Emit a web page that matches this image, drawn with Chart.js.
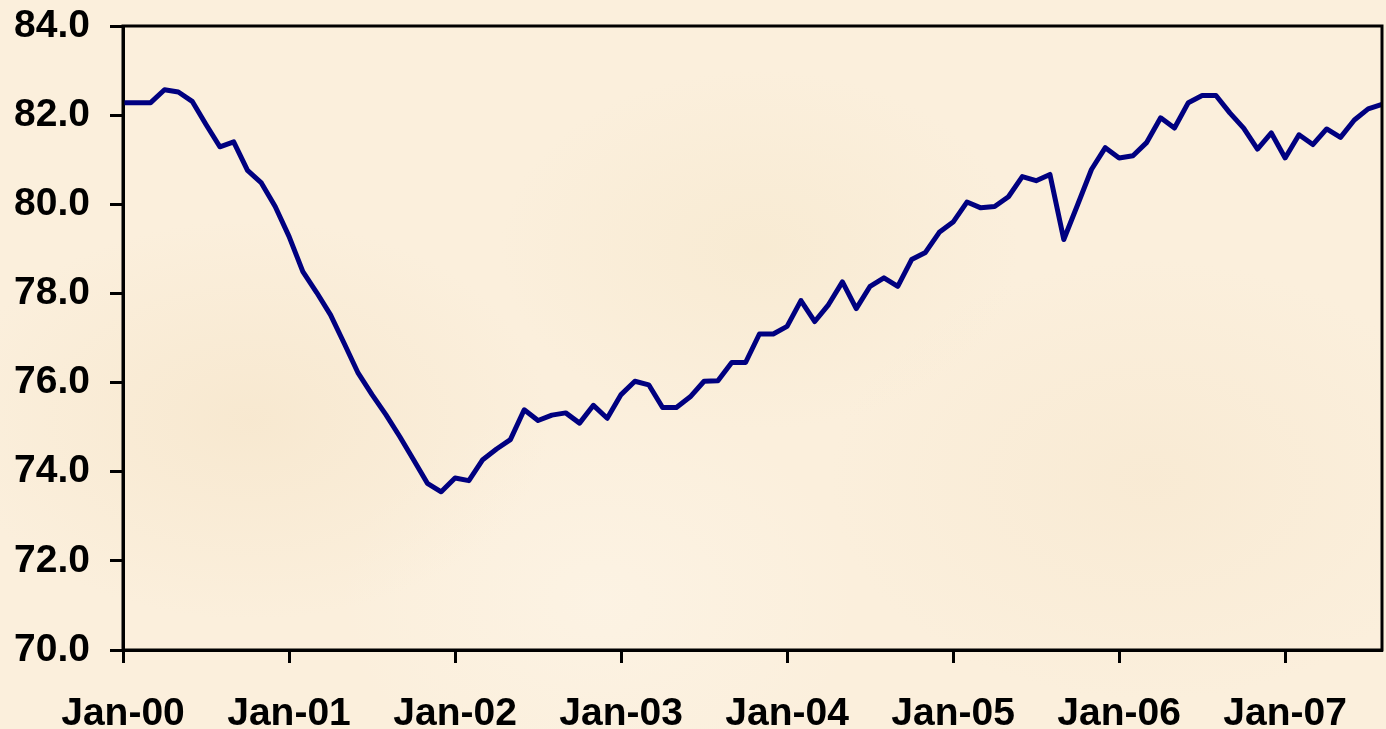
<!DOCTYPE html>
<html>
<head>
<meta charset="utf-8">
<script src="https://cdn.jsdelivr.net/npm/chart.js@4.4.1/dist/chart.umd.min.js"></script>
<style>
  html, body { margin: 0; padding: 0; }
  body {
    width: 1386px;
    height: 729px;
    overflow: hidden;
    background-color: #fbefdc;
    background-image:
      radial-gradient(ellipse 300px 200px at 250px 420px, rgba(245, 228, 200, 0.6), transparent),
      radial-gradient(ellipse 260px 180px at 760px 250px, rgba(246, 232, 205, 0.6), transparent),
      radial-gradient(ellipse 320px 220px at 1150px 480px, rgba(246, 230, 204, 0.5), transparent),
      radial-gradient(ellipse 260px 200px at 600px 600px, rgba(253, 245, 232, 0.6), transparent);
  }
</style>
</head>
<body>
<canvas id="chart" width="1386" height="729"></canvas>
<script>
const monthNames = ['Jan', 'Feb', 'Mar', 'Apr', 'May', 'Jun', 'Jul', 'Aug', 'Sep', 'Oct', 'Nov', 'Dec'];
const years = ['00', '01', '02', '03', '04', '05', '06', '07'];
const tickLabels = ['Jan-00', 'Jan-01', 'Jan-02', 'Jan-03', 'Jan-04', 'Jan-05', 'Jan-06', 'Jan-07'];

// monthly values, Jan-00 .. Aug-07
const values = [
  82.28, 82.28, 82.28, 82.57, 82.52, 82.31, 81.79, 81.29, 81.40, 80.76, 80.48, 79.95,
  79.28, 78.49, 78.02, 77.52, 76.87, 76.21, 75.73, 75.28, 74.79, 74.27, 73.74, 73.55,
  73.86, 73.80, 74.27, 74.51, 74.72, 75.39, 75.15, 75.27, 75.32, 75.09, 75.49, 75.20,
  75.73, 76.03, 75.95, 75.44, 75.44, 75.68, 76.03, 76.04, 76.45, 76.45, 77.09, 77.09,
  77.26, 77.84, 77.37, 77.75, 78.26, 77.66, 78.16, 78.35, 78.16, 78.76, 78.92, 79.37,
  79.60, 80.05, 79.92, 79.95, 80.17, 80.62, 80.53, 80.67, 79.21, 79.99, 80.78, 81.27,
  81.04, 81.09, 81.39, 81.94, 81.71, 82.28, 82.44, 82.44, 82.05, 81.71, 81.24, 81.60,
  81.04, 81.56, 81.34, 81.69, 81.50, 81.89, 82.14, 82.24
];

const categories = values.map((v, i) => monthNames[i % 12] + '-' + years[Math.floor(i / 12)]);

const labelFont = { family: '"Liberation Sans", Arial, sans-serif', size: 39, weight: 'bold' };

// black frame round the plot area
const plotBorder = {
  id: 'plotBorder',
  afterDatasetsDraw(chart) {
    const { ctx, chartArea: a } = chart;
    ctx.save();
    ctx.strokeStyle = '#000';
    ctx.lineWidth = 3;
    ctx.strokeRect(a.left, a.top, a.right - a.left, a.bottom - a.top);
    ctx.restore();
  }
};

new Chart(document.getElementById('chart').getContext('2d'), {
  type: 'line',
  data: {
    labels: categories,
    datasets: [{
      data: values,
      borderColor: '#000080',
      borderWidth: 5,
      pointRadius: 0,
      tension: 0,
      fill: false,
      borderJoinStyle: 'round'
    }]
  },
  options: {
    responsive: false,
    animation: false,
    layout: { padding: { top: 26, right: 4, left: 0, bottom: 0 } },
    plugins: { legend: { display: false }, tooltip: { enabled: false } },
    scales: {
      x: {
        offset: false,
        afterFit: scale => {
          scale.height = 79;
          scale.paddingLeft = 0;
          scale.paddingRight = 0;
        },
        border: { display: true, color: '#000', width: 3 },
        grid: {
          drawOnChartArea: false,
          drawTicks: true,
          tickLength: 13,
          tickWidth: 3,
          tickColor: c => tickLabels.includes(categories[c.index]) ? '#000' : 'rgba(0,0,0,0)'
        },
        ticks: {
          autoSkip: false,
          maxRotation: 0,
          minRotation: 0,
          padding: 28,
          color: '#000',
          font: labelFont,
          callback: (val, i) => tickLabels.includes(categories[i]) ? categories[i] : ''
        }
      },
      y: {
        min: 70,
        max: 84,
        afterFit: scale => {
          scale.width = 123;
          scale.paddingTop = 0;
          scale.paddingBottom = 0;
        },
        border: { display: true, color: '#000', width: 3 },
        grid: {
          drawOnChartArea: false,
          drawTicks: true,
          tickLength: 13,
          tickWidth: 3,
          tickColor: '#000'
        },
        ticks: {
          stepSize: 2,
          padding: 20,
          color: '#000',
          font: labelFont,
          callback: v => v.toFixed(1)
        }
      }
    }
  },
  plugins: [plotBorder]
});
</script>
</body>
</html>
